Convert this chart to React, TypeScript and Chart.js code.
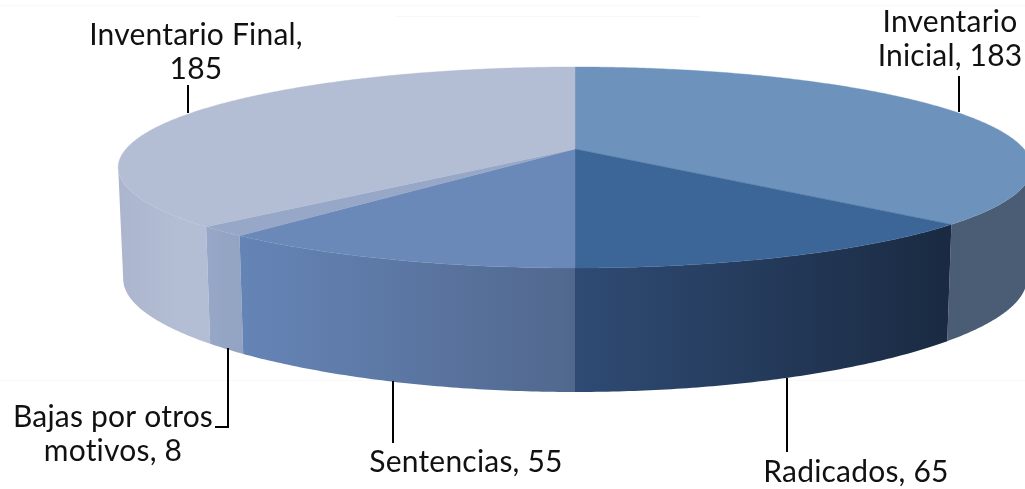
import React, { useEffect, useRef } from "react";
import { Chart, registerables } from "chart.js";

Chart.register(...registerables);

const categories = ["Inventario Inicial", "Radicados", "Sentencias", "Bajas por otros motivos", "Inventario Final"];
const values = [183, 65, 55, 8, 185];
const topColors = ["#6d93bd", "#3d6698", "#6a89b8", "#96a7c8", "#b3bdd4"];
const wallStartColors = ["#4b5c75", "#2f4b74", "#6584b6", "#96a7c7", "#abb5ce"];
const wallEndColors = ["#4b5c75", "#1a2a42", "#51688e", "#93a3c2", "#b3bdd3"];
const labelLines = [
  ["Inventario", "Inicial, 183"],
  ["Radicados, 65"],
  ["Sentencias, 55"],
  ["Bajas por otros", "motivos, 8"],
  ["Inventario Final,", "185"],
];

const FONT = '30px "Lato", sans-serif';
const CX = 575, CY = 149, K = 0.184, A = 97.1, B = 449;
const labelAnchors = [
  { x: 950, y: 32 },
  { x: 856, y: 482 },
  { x: 466, y: 472 },
  { x: 113, y: 427 },
  { x: 196, y: 45 },
];
const leaders = [
  [[959, 112], [959, 76]],
  [[787, 378], [787, 452]],
  [[393, 381], [393, 443]],
  [[228, 348], [228, 427], [215, 427]],
  [[188, 113], [188, 85]],
];
const wallRanges = [
  [950, 1032],
  [575, 947],
  [244, 575],
  [207, 244],
  [118, 180],
];

function topPoint(a: number) {
  const u = Math.cos(a), v = Math.sin(a);
  const d = 1 - K * v;
  return { x: CX + (B * u) / d, y: CY + (A * v) / d, v };
}
function bottomPoint(a: number) {
  const p = topPoint(a);
  return { x: CX + (p.x - CX) * 0.989, y: p.y + 110 + 8 * p.v + 6 * p.v ** 4 };
}

const pie3d = {
  id: "pie3d",
  beforeDatasetsDraw(chart: any) {
    const ctx: CanvasRenderingContext2D = chart.ctx;
    const arcs = chart.getDatasetMeta(0).data;
    ctx.save();
    // faint background traces of the original slide
    ctx.strokeStyle = "#f9f9f9";
    ctx.lineWidth = 1;
    ctx.beginPath();
    ctx.moveTo(0, 380.5); ctx.lineTo(1025, 380.5);
    ctx.moveTo(0, 5.5); ctx.lineTo(1025, 5.5);
    ctx.moveTo(395, 16.5); ctx.lineTo(700, 16.5);
    ctx.stroke();

    const angles = (el: any) => {
      const n = Math.max(2, Math.ceil((el.endAngle - el.startAngle) / 0.01));
      return Array.from({ length: n + 1 }, (_, i) => el.startAngle + ((el.endAngle - el.startAngle) * i) / n);
    };

    // side walls: only the part of each slice's rim that faces the viewer
    [0, 4, 3, 2, 1].forEach((i) => {
      const as = angles(arcs[i]).filter((a) => Math.sin(a) >= K);
      if (as.length < 2) return;
      const tops = as.map(topPoint);
      const bots = as.map(bottomPoint);
      const gr = ctx.createLinearGradient(wallRanges[i][0], 0, wallRanges[i][1], 0);
      gr.addColorStop(0, wallStartColors[i]);
      gr.addColorStop(1, wallEndColors[i]);
      ctx.fillStyle = gr;
      ctx.beginPath();
      tops.forEach((p, j) => (j ? ctx.lineTo(p.x, p.y) : ctx.moveTo(p.x, p.y)));
      bots.reverse().forEach((p) => ctx.lineTo(p.x, p.y));
      ctx.closePath();
      ctx.fill();
    });

    // top faces
    arcs.forEach((el: any) => {
      ctx.fillStyle = el.options.backgroundColor;
      ctx.beginPath();
      ctx.moveTo(CX, CY);
      angles(el).map(topPoint).forEach((p) => ctx.lineTo(p.x, p.y));
      ctx.closePath();
      ctx.fill();
      ctx.strokeStyle = el.options.backgroundColor;
      ctx.lineWidth = 0.4;
      ctx.stroke();
    });
    ctx.restore();
    return false;
  },
  afterDraw(chart: any) {
    const ctx: any = chart.ctx;
    ctx.save();
    ctx.strokeStyle = "#000";
    ctx.lineWidth = 2;
    leaders.forEach((pts) => {
      ctx.beginPath();
      pts.forEach(([x, y], j) => (j ? ctx.lineTo(x, y) : ctx.moveTo(x, y)));
      ctx.stroke();
    });
    ctx.fillStyle = "#111";
    ctx.font = FONT;
    ctx.letterSpacing = "0.2px";
    ctx.textAlign = "center";
    ctx.textBaseline = "alphabetic";
    labelLines.forEach((lines, i) => {
      lines.forEach((t, j) => ctx.fillText(t, labelAnchors[i].x, labelAnchors[i].y + j * 33.5));
    });
    ctx.restore();
  },
};

export default function App() {
  const ref = useRef<HTMLCanvasElement | null>(null);
  useEffect(() => {
    document.body.style.margin = "0";
    document.body.style.background = "#fff";
    const chart = new Chart(ref.current as HTMLCanvasElement, {
      type: "pie",
      data: {
        labels: categories,
        datasets: [{ data: values, backgroundColor: topColors, borderWidth: 0 }],
      },
      options: {
        animation: false,
        responsive: false,
        plugins: { legend: { display: false }, tooltip: { enabled: false } },
      },
      plugins: [pie3d as any],
    });
    return () => chart.destroy();
  }, []);
  return <canvas ref={ref} width={1025} height={489} style={{ display: "block" }} />;
}
